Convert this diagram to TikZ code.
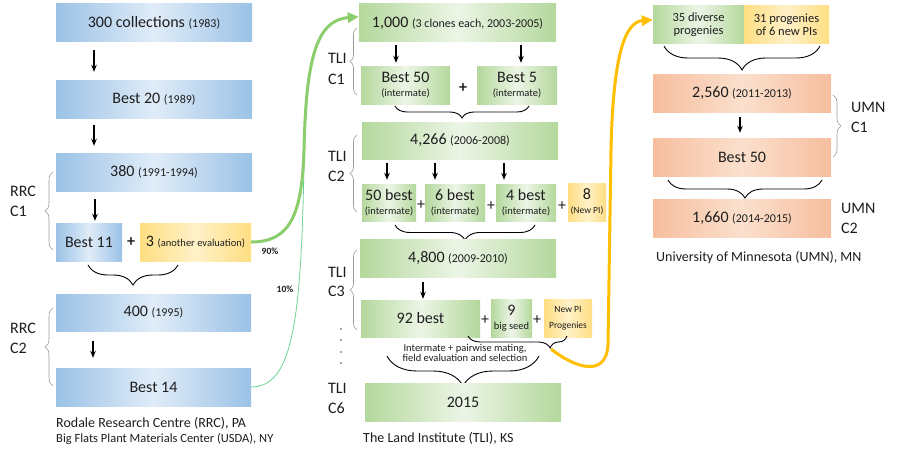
\documentclass[tikz,border=0pt]{standalone}
\usepackage{fontspec}
\setmainfont{Carlito}
\usetikzlibrary{decorations.pathreplacing,arrows.meta,calc}

\definecolor{bE}{RGB}{155,194,230}
\definecolor{bL}{RGB}{224,236,248}
\definecolor{gE}{RGB}{180,216,156}
\definecolor{gL}{RGB}{236,245,230}
\definecolor{oE}{RGB}{246,190,158}
\definecolor{oL}{RGB}{251,224,205}
\definecolor{yE}{RGB}{255,222,130}
\definecolor{yL}{RGB}{255,241,200}
\definecolor{gthickc}{RGB}{140,205,110}
\definecolor{gthinc}{RGB}{110,212,150}
\definecolor{goldc}{RGB}{255,190,0}
\definecolor{txt}{RGB}{30,30,30}

\newcommand\szA{\fontsize{16}{17}\selectfont}
\newcommand\szB{\fontsize{12}{13}\selectfont}
\newcommand\szC{\fontsize{10.5}{11}\selectfont}
\newcommand\szD{\fontsize{9.5}{10}\selectfont}
\newcommand\szE{\fontsize{14}{15}\selectfont}
\newcommand\szF{\fontsize{12.5}{14}\selectfont}

\begin{document}
\begin{tikzpicture}[x=1pt,y=-1pt,
  box/.style={inner sep=0pt, align=center, font=\szA, text=txt},
  wh/.style 2 args={minimum width=#1pt, minimum height=#2pt},
  bluebox/.style={box,left color=bE,right color=bE,middle color=bL},
  greenbox/.style={box,left color=gE,right color=gE,middle color=gL},
  orangebox/.style={box,left color=oE,right color=oE,middle color=oL},
  yellowbox/.style={box,left color=yE,right color=yE,middle color=yL},
  plus/.style={font=\bfseries\szA, text=txt, inner sep=0pt},
  plusn/.style={font=\szA, text=txt, inner sep=0pt},
  lbl/.style={font=\szA, text=txt, anchor=west, inner sep=0pt},
  captxt/.style={font=\szE, text=txt, anchor=west, inner sep=0pt},
  arr/.style={-{Stealth[length=7pt,width=5.5pt]}, line width=1.2pt, black},
  bbrace/.style={decorate, decoration={brace, mirror, amplitude=#1}, line width=0.9pt, black},
  sbrace/.style={decorate, decoration={brace, amplitude=#1}, line width=0.6pt, black!40},
  pct/.style={font=\bfseries\szD, text=txt, inner sep=0pt}
]
\fill[white] (0,0) rectangle (900,460);
\useasboundingbox (0,0) rectangle (900,460);

% ---------------- left column (RRC)
\node[bluebox,wh={196}{38}] (r1) at (154,23) {300 collections {\szB (1983)}};
\node[bluebox,wh={196}{37}] (r2) at (154,99.5) {Best 20 {\szB (1989)}};
\node[bluebox,wh={196}{38}] (r3) at (154,172) {380 {\szB (1991-1994)}};
\node[bluebox,wh={66}{38}] (r4) at (89,242) {Best 11};
\node[plus] (pl1) at (131,242) {+};
\node[yellowbox,wh={111}{38}] (r5) at (195.5,242) {3 {\szC (another evaluation)}};
\node[bluebox,wh={195}{37}] (r6) at (153.5,312.5) {400 {\szB (1995)}};
\node[bluebox,wh={195}{38}] (r7) at (153.5,387) {Best 14};

\draw[arr,shorten <=8pt,shorten >=9pt] (r1.south -| 94,0) -- (r2.north -| 94,0);
\draw[arr,shorten <=7pt,shorten >=7pt] (r2.south -| 94,0) -- (r3.north -| 94,0);
\draw[arr,shorten <=8pt,shorten >=2pt] (r3.south -| 95,0) -- (r4.north -| 95,0);
\draw[arr,shorten <=10pt,shorten >=10pt] (r6.south -| 93,0) -- (r7.north -| 93,0);

\draw[bbrace=20pt] (88,265) -- (178,265);
\draw[sbrace=8pt] (53,250) -- (53,172);
\draw[sbrace=8pt] (53,386) -- (53,308);
\node[lbl] (rrc1a) at (10,191) {RRC};
\node[lbl] (rrc1b) at (10,211) {C1};
\node[lbl] (rrc2a) at (10,328) {RRC};
\node[lbl] (rrc2b) at (10,348) {C2};

\node[captxt] (rcap1) at (56,423) {Rodale Research Centre (RRC), PA};
\node[captxt,font=\szF] (rcap2) at (56,439) {Big Flats Plant Materials Center (USDA), NY};

% ---------------- middle column (TLI)
\node[greenbox,wh={197}{38}] (t1) at (457.5,23) {1,000 {\szB (3 clones each, 2003-2005)}};
\node[greenbox,wh={89}{37}] (t2) at (405.5,85.5) {Best 50\\[-3pt]{\szC (intermate)}};
\node[plus] (pl2) at (463,88) {+};
\node[greenbox,wh={80}{37}] (t3) at (517,85.5) {Best 5\\[-3pt]{\szC (intermate)}};
\draw[arr,shorten <=3pt,shorten >=4pt] (t1.south -| 396,0) -- (t2.north -| 396,0);
\draw[arr,shorten <=3pt,shorten >=4pt] (t1.south -| 521,0) -- (t3.north -| 521,0);
\draw[bbrace=12pt] (395,106) -- (529,106);

\node[greenbox,wh={196}{37}] (t4) at (460,140.5) {4,266 {\szB (2006-2008)}};
\node[greenbox,wh={54}{37}] (t5) at (389,202.5) {50 best\\[-3pt]{\szC (intermate)}};
\node[plusn] (pl3) at (421,205) {+};
\node[greenbox,wh={60}{37}] (t6) at (455,202.5) {6 best\\[-3pt]{\szC (intermate)}};
\node[plusn] (pl4) at (491,206) {+};
\node[greenbox,wh={60}{37}] (t7) at (526,202.5) {4 best\\[-3pt]{\szC (intermate)}};
\node[plusn] (pl5) at (562,206) {+};
\node[yellowbox,wh={38}{38}] (t8) at (587,202) {8\\[-3pt]{\szD (New PI)}};
\draw[arr,shorten <=4pt,shorten >=4pt] (t4.south -| 387,0) -- (t5.north -| 387,0);
\draw[arr,shorten <=4pt,shorten >=4pt] (t4.south -| 435,0) -- (t6.north -| 435,0);
\draw[arr,shorten <=4pt,shorten >=4pt] (t4.south -| 504,0) -- (t7.north -| 504,0);
\draw[bbrace=15pt] (395,225) -- (535,225);

\node[greenbox,wh={196}{38}] (t9) at (458,258) {4,800 {\szB (2009-2010)}};
\node[greenbox,wh={119}{37}] (t10) at (420.5,318.5) {92 best};
\node[plusn] (pl6) at (485,320) {+};
\node[greenbox,wh={41}{38}] (t11) at (511.5,318) {9\\[-3pt]{\szC big seed}};
\node[plusn] (pl7) at (537,320) {+};
\node[yellowbox,wh={48}{38}] (t12) at (568,318) {\szD New PI\\[-1pt]\szD Progenies};
\draw[arr,shorten <=5pt,shorten >=1pt] (t9.south -| 423,0) -- (t10.north -| 423,0);
\draw[decorate, decoration={brace, mirror, amplitude=12pt, aspect=0.83}, line width=0.9pt, black] (468,336) -- (567,336);
\coordinate (pib) at (551,349);
\node[font=\szC, text=txt, align=center, inner sep=0pt] (imt) at (465,352.5) {Intermate + pairwise mating,\\[-1pt]field evaluation and selection};
\draw[bbrace=30pt] (387,356) -- (539,356);
\node[greenbox,wh={196}{38}] (t13) at (463,402) {2015};

\node[lbl] (tl1a) at (328,58) {TLI};
\node[lbl] (tl1b) at (328,79) {C1};
\node[lbl] (tl2a) at (328,156) {TLI};
\node[lbl] (tl2b) at (328,176) {C2};
\node[lbl] (tl3a) at (328,272) {TLI};
\node[lbl] (tl3b) at (328,291) {C3};
\node[lbl] (tl6a) at (328,388) {TLI};
\node[lbl] (tl6b) at (328,408) {C6};
\draw[sbrace=7pt] (357,95) -- (357,28);
\draw[sbrace=7pt] (357,212) -- (357,135);
\draw[sbrace=7pt] (357,330) -- (357,250);
\foreach \yy in {329,340,352,363} \fill[black!70] (341,\yy) circle (0.8);

\node[captxt] (tcap) at (363,438) {The Land Institute (TLI), KS};

% ---------------- right column (UMN)
\node[greenbox,wh={91}{38},font=\szF] (u1) at (698.5,25) {35 diverse\\[-1pt]progenies};
\node[yellowbox,wh={85}{38},font=\szF] (u2) at (786.5,25) {31 progenies\\[-1pt]of 6 new PIs};
\draw[bbrace=24pt] (664,46) -- (820,46);
\node[orangebox,wh={178}{37}] (u3) at (742,93.5) {2,560 {\szB (2011-2013)}};
\node[orangebox,wh={178}{38}] (u4) at (742,157) {Best 50};
\draw[arr,shorten <=5pt,shorten >=5pt] (u3.south -| 740,0) -- (u4.north -| 740,0);
\draw[sbrace=8pt] (833,95) -- (833,157);
\node[lbl] (um1a) at (851,107) {UMN};
\node[lbl] (um1b) at (851,127) {C1};
\draw[bbrace=18pt] (668,180) -- (822,180);
\node[orangebox,wh={178}{38}] (u5) at (742,218) {1,660 {\szB (2014-2015)}};
\node[lbl] (um2a) at (841,208) {UMN};
\node[lbl] (um2b) at (841,228) {C2};
\node[captxt] (ucap) at (656,258) {University of Minnesota (UMN), MN};

% ---------------- flows
\coordinate (mg) at (304,165);
\draw[gthinc, line width=0.8pt] (r7.east) .. controls (293,387) and (301,320) .. (mg);
\draw[gthickc, line width=3pt, -{Triangle[length=11pt,width=10pt]}]
  (r5.east) .. controls (290,242) and (302,215) .. (304,150)
  .. controls (306,60) and (316,20) .. ($(t1.north west)+(0,13)$);
\node[pct] (p90) at (270,251) {90\%};
\node[pct] (p10) at (285,289) {10\%};

\draw[goldc, line width=3pt, -{Triangle[length=11pt,width=10pt]}]
  (pib) .. controls (575,368) and (606,378) .. (608,345)
  -- (611,150) .. controls (613,55) and (625,22) .. ($(u1.north west)+(0,14)$);
\end{tikzpicture}
\end{document}
